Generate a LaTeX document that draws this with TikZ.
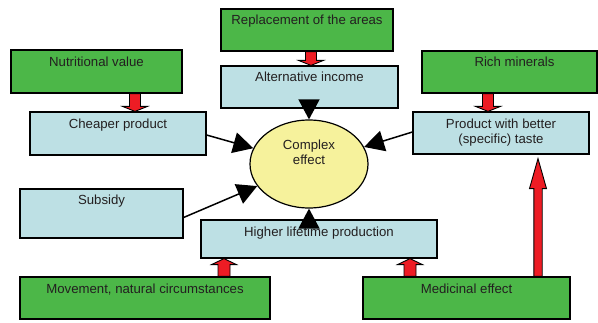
\documentclass[tikz,border=0pt]{standalone}
\usepackage{fontspec}
\setmainfont{Liberation Sans}
\usetikzlibrary{arrows.meta,calc,shapes.geometric,fit}
\definecolor{boxgreen}{RGB}{76,183,72}
\definecolor{boxblue}{RGB}{189,224,228}
\definecolor{elly}{RGB}{246,242,156}
\definecolor{arrred}{RGB}{237,28,36}
\definecolor{txt}{RGB}{35,31,32}
% #1 x, #2 start, #3 tip, #4 shaft half, #5 head half, #6 head length
\newcommand\blockarrow[6]{%
  \draw[redarr] let \p1=(#1,0 |- #2), \p2=(#1,0 |- #3), \n1={sign(\y2-\y1)}, \n2={\y2-\n1*#6} in
   ({\x1-#4},\y1) -- ({\x1+#4},\y1) -- ({\x1+#4},\n2) -- ({\x1+#5},\n2)
   -- (\x2,\y2) -- ({\x1-#5},\n2) -- ({\x1-#4},\n2) -- cycle;}
\begin{document}
\begin{tikzpicture}[x=1pt,y=-1pt,
  every node/.style={font=\fontsize{13.2}{15}\selectfont, text=txt},
  basebox/.style={draw=black, line width=1.2pt, inner sep=0pt, rectangle},
  gbox/.style={basebox, fill=boxgreen},
  bbox/.style={basebox, fill=boxblue},
  lbl/.style={inner sep=0pt, text height=9.5pt, text depth=0pt, anchor=center},
  mlbl/.style={inner sep=0pt, align=center, anchor=center},
  conn/.style={draw=black, line width=1.5pt, -{Triangle[length=20pt,width=21pt]}},
  redarr/.style={fill=arrred, draw=black, line width=0.9pt, line join=miter}]
\useasboundingbox (0,0) rectangle (598,322);
% boxes
\node[gbox, fit={(221,9) (393,51)}] (repl) {};
\node[bbox, fit={(221,66) (398,108)}] (alt) {};
\node[gbox, fit={(11,50) (182,93)}] (nut) {};
\node[bbox, fit={(30,112) (206,155)}] (cheap) {};
\node[gbox, fit={(422,51) (597,93)}] (rich) {};
\node[bbox, fit={(413,112) (589,154)}] (prod) {};
\node[bbox, fit={(20,189) (183,238)}] (subs) {};
\node[bbox, fit={(201,220) (437,258)}] (higher) {};
\node[gbox, fit={(20,277) (270,319)}] (move) {};
\node[gbox, fit={(363,277) (570,319)}] (med) {};
\node[ellipse, draw=black, line width=1.2pt, fill=elly, inner sep=0pt,
      minimum width=118, minimum height=88] (ell) at (309,164) {};
% labels
\node[lbl] (repl-t) at ([yshift=-11pt]repl.north) {Replacement of the areas};
\node[lbl] (alt-t) at ([yshift=-11pt]alt.north) {Alternative income};
\node[lbl] (nut-t) at ([yshift=-12pt]nut.north) {Nutritional value};
\node[lbl] (cheap-t) at ([yshift=-12pt]cheap.north) {Cheaper product};
\node[lbl] (rich-t) at ([xshift=5pt,yshift=-11pt]rich.north) {Rich minerals};
\node[mlbl] (prod-t) at ([yshift=-20.7pt]prod.north) {Product with better\\(specific) taste};
\node[lbl] (subs-t) at ([yshift=-11.7pt]subs.north) {Subsidy};
\node[lbl] (higher-t) at ([yshift=-12pt]higher.north) {Higher lifetime production};
\node[lbl] (move-t) at ([yshift=-12pt]move.north) {Movement, natural circumstances};
\node[lbl] (med-t) at ([yshift=-12pt]med.north) {Medicinal effect};
\node[mlbl] (ell-t) at ([yshift=11.3pt]ell.center) {Complex\\effect};
% red block arrows
\blockarrow{311}{repl.south}{alt.north}{5.5pt}{12.5pt}{5pt}
\blockarrow{135}{nut.south}{cheap.north}{5.5pt}{12.5pt}{5pt}
\blockarrow{488}{rich.south}{prod.north}{5.5pt}{12.5pt}{5pt}
\blockarrow{224}{move.north}{higher.south}{6pt}{12.5pt}{6pt}
\blockarrow{410}{med.north}{higher.south}{6pt}{12.5pt}{6pt}
\coordinate (longtip) at ([yshift=-4pt]538,0 |- prod.south);
\blockarrow{538}{med.north}{longtip}{4.2pt}{8.5pt}{30pt}
% black connectors
\draw[conn] (alt.south -| ell.north) -- (ell.north);
\draw[conn] (higher.north -| ell.south) -- (ell.south);
\draw[conn] ([yshift=-1.5pt]cheap.east) -- (ell);
\draw[conn] ([yshift=-4pt]subs.east) -- (ell);
\draw[conn] ([yshift=1pt]prod.west) -- (ell);
\end{tikzpicture}
\end{document}
